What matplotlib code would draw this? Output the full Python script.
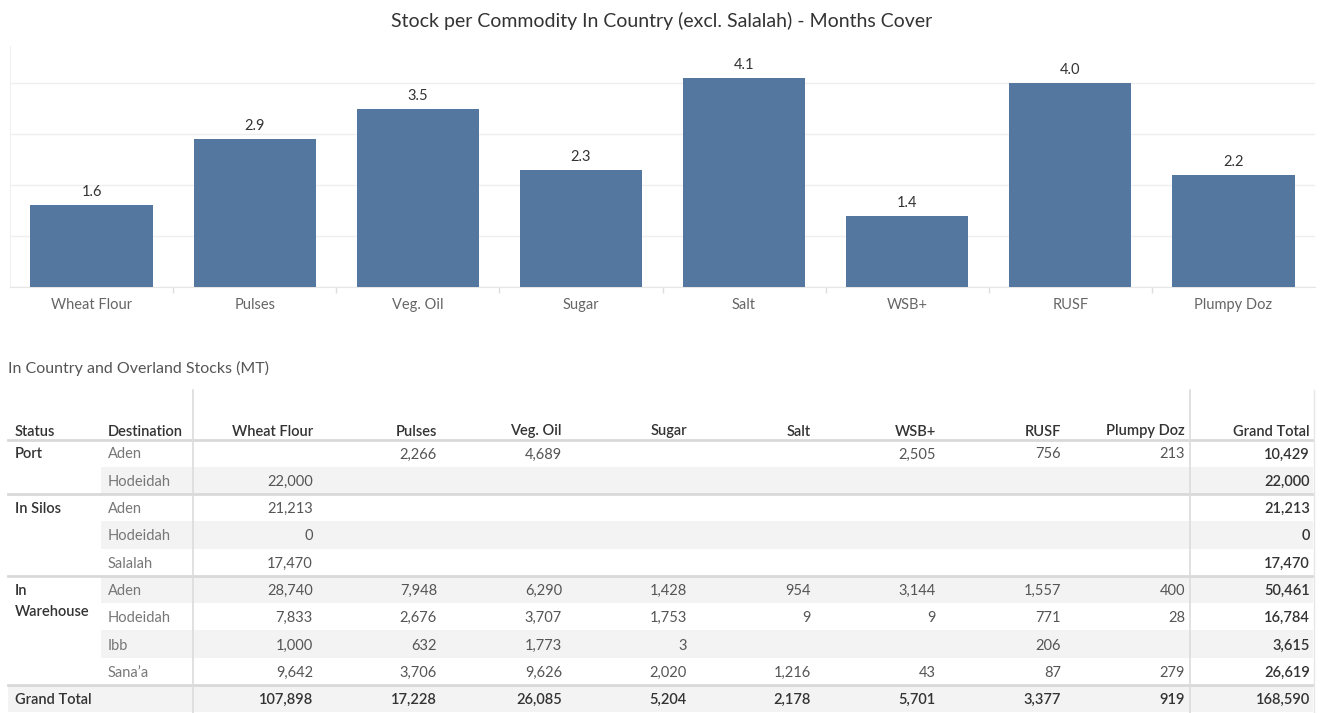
import matplotlib
matplotlib.use("Agg")
import matplotlib.pyplot as plt
from matplotlib.patches import Rectangle

plt.rcParams['font.family'] = ['Lato', 'DejaVu Sans']

# ---------------- data ----------------
commodities = ['Wheat Flour', 'Pulses', 'Veg. Oil', 'Sugar', 'Salt', 'WSB+', 'RUSF', 'Plumpy Doz']
months_cover = [1.6, 2.9, 3.5, 2.3, 4.1, 1.4, 4.0, 2.2]

status = ['Port', '', 'In Silos', '', '', 'In\nWarehouse', '', '', '']
destinations = ['Aden', 'Hodeidah', 'Aden', 'Hodeidah', 'Salalah', 'Aden', 'Hodeidah', 'Ibb', 'Sana\u2019a']
wheat_flour = [None, 22000, 21213, 0, 17470, 28740, 7833, 1000, 9642]
pulses = [2266, None, None, None, None, 7948, 2676, 632, 3706]
veg_oil = [4689, None, None, None, None, 6290, 3707, 1773, 9626]
sugar = [None, None, None, None, None, 1428, 1753, 3, 2020]
salt = [None, None, None, None, None, 954, 9, None, 1216]
wsb = [2505, None, None, None, None, 3144, 9, None, 43]
rusf = [756, None, None, None, None, 1557, 771, 206, 87]
plumpy = [213, None, None, None, None, 400, 28, None, 279]
row_totals = [10429, 22000, 21213, 0, 17470, 50461, 16784, 3615, 26619]
col_totals = [107898, 17228, 26085, 5204, 2178, 5701, 3377, 919, 168590]
table_headers = ['Wheat Flour', 'Pulses', 'Veg. Oil', 'Sugar', 'Salt', 'WSB+', 'RUSF', 'Plumpy Doz', 'Grand Total']
table_columns = [wheat_flour, pulses, veg_oil, sugar, salt, wsb, rusf, plumpy, row_totals]

# ---------------- figure ----------------
W, H = 1324, 713
fig = plt.figure(figsize=(W / 100, H / 100), dpi=100)
fig.patch.set_facecolor('white')

BAR = '#54779f'
DARK = '#333333'
MID = '#555555'
LIGHT = '#666666'

# bar chart axes (pixel layout)
x0, x1, ytop, ybot = 10, 1315, 46, 287
ax = fig.add_axes([x0 / W, 1 - ybot / H, (x1 - x0) / W, (ybot - ytop) / H])
xs = list(range(len(commodities)))
ax.bar(xs, months_cover, width=0.75, color=BAR, zorder=3)
ax.set_xlim(-0.5, len(commodities) - 0.5)
ax.set_ylim(0, 4.73)
ax.set_yticks([0, 1, 2, 3, 4])
ax.yaxis.grid(True, color='#efefef', linewidth=1)
ax.tick_params(axis='y', left=False, labelleft=False)
ax.set_xticks(xs)
ax.set_xticklabels(commodities, fontsize=10.5, color=LIGHT)
ax.tick_params(axis='x', length=0, pad=8)
ax.set_xticks([i + 0.5 for i in xs[:-1]], minor=True)
ax.tick_params(axis='x', which='minor', length=4, color='#dddddd', width=1)
for s in ['top', 'right']:
    ax.spines[s].set_visible(False)
ax.spines['left'].set_color('#f0f0f0')
ax.spines['bottom'].set_color('#e6e6e6')
for xi, v in zip(xs, months_cover):
    ax.text(xi, v + 0.12, f'{v:.1f}', ha='center', va='bottom', fontsize=10.5, color=DARK)

fig.text(0.5, 1 - 21 / H, 'Stock per Commodity In Country (excl. Salalah) - Months Cover',
         ha='center', va='center', fontsize=14, color=DARK)

# ---------------- table ----------------
tx = fig.add_axes([0, 0, 1, 1])
tx.set_xlim(0, W)
tx.set_ylim(H, 0)
tx.axis('off')

tx.text(8, 368, 'In Country and Overland Stocks (MT)', ha='left', va='center', fontsize=11.5, color=MID)

header_y = 431.5
row0 = 453
rh = 27.3
ty = 1.5  # text offset inside rows
col_right = [313, 437, 562, 687, 811, 936, 1061, 1185, 1310]
n_rows = len(destinations)

# row banding
for i in range(n_rows + 1):
    yc = row0 + i * rh
    if i % 2 == 1:
        left = 101 if i < n_rows else 8
        tx.add_patch(Rectangle((left, yc - rh / 2), 1313 - left, rh, color='#f3f3f3', lw=0, zorder=0))

# lines
line_c = '#d9d9d9'
tx.plot([8, 1313], [440, 440], color=line_c, lw=2, zorder=1)
for b in [1, 4, 8]:
    yb = row0 + b * rh + rh / 2
    tx.plot([8, 1313], [yb, yb], color=line_c, lw=2, zorder=1)
for xv in [193, 1190]:
    tx.plot([xv, xv], [390, H], color='#dcdcdc', lw=1.2, zorder=1)
tx.plot([1314, 1314], [390, H], color='#e6e6e6', lw=1, zorder=1)

# headers
fs = 10.5
tx.text(15, header_y, 'Status', ha='left', va='center', fontsize=fs, color=DARK, weight='semibold')
tx.text(108, header_y, 'Destination', ha='left', va='center', fontsize=fs, color=DARK, weight='semibold')
for xr, h in zip(col_right, table_headers):
    tx.text(xr, header_y, h, ha='right', va='center', fontsize=fs, color=DARK, weight='semibold')

# body
for i in range(n_rows):
    yc = row0 + i * rh + ty
    if status[i]:
        tx.text(15, yc - 7, status[i], ha='left', va='top', fontsize=fs, color=DARK,
                weight='semibold', linespacing=1.6)
    tx.text(108, yc, destinations[i], ha='left', va='center', fontsize=fs, color='#777777')
    for xr, col in zip(col_right, table_columns):
        v = col[i]
        if v is not None:
            c = DARK if col is row_totals else MID
            w = 'semibold' if col is row_totals else 'normal'
            tx.text(xr, yc, f'{v:,}', ha='right', va='center', fontsize=fs, color=c, weight=w)

yg = row0 + n_rows * rh + ty
tx.text(15, yg, 'Grand Total', ha='left', va='center', fontsize=fs, color=DARK, weight='semibold')
for xr, v in zip(col_right, col_totals):
    tx.text(xr, yg, f'{v:,}', ha='right', va='center', fontsize=fs, color=DARK, weight='semibold')

fig.savefig('out.png', dpi=100, facecolor='white')
